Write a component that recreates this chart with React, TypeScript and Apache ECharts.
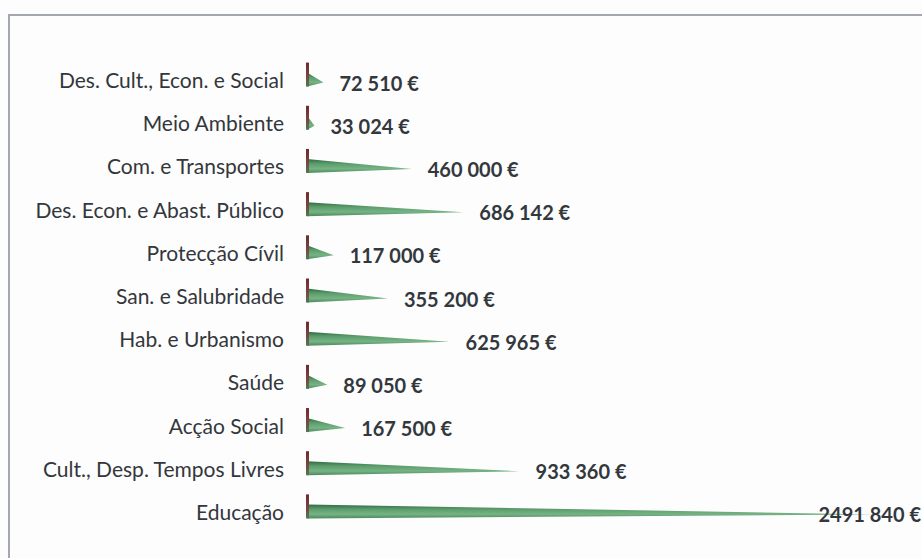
import React, { useEffect, useRef } from "react";
import * as echarts from "echarts";

const categories = [
  "Des. Cult., Econ. e Social",
  "Meio Ambiente",
  "Com. e Transportes",
  "Des. Econ. e Abast. Público",
  "Protecção Cívil",
  "San. e Salubridade",
  "Hab. e Urbanismo",
  "Saúde",
  "Acção Social",
  "Cult., Desp. Tempos Livres",
  "Educação",
];

const values = [72510, 33024, 460000, 686142, 117000, 355200, 625965, 89050, 167500, 933360, 2491840];

const axisMax = 2700000;

function formatEuro(v: number): string {
  const hi = Math.floor(v / 1000);
  const lo = String(v % 1000).padStart(3, "0");
  return `${hi} ${lo} €`;
}

export default function App() {
  const ref = useRef<HTMLDivElement>(null);
  useEffect(() => {
    document.body.style.margin = "0";
    document.body.style.overflow = "hidden";
    const chart = echarts.init(ref.current!, undefined, { renderer: "svg" });
    const green = new echarts.graphic.LinearGradient(0, 0, 0, 1, [
      { offset: 0, color: "#2f6b42" },
      { offset: 0.35, color: "#5d9d6c" },
      { offset: 0.7, color: "#76b385" },
      { offset: 1, color: "#4a8a5b" },
    ]);
    const red = new echarts.graphic.LinearGradient(0, 0, 0, 1, [
      { offset: 0, color: "#6e2a2c" },
      { offset: 0.6, color: "#7d4540" },
      { offset: 1, color: "#4e7a55" },
    ]);
    chart.setOption({
      animation: false,
      backgroundColor: "#fdfdfd",
      grid: { left: 307, top: 58, width: 616, height: 475, containLabel: false },
      xAxis: {
        type: "value",
        min: 0,
        max: axisMax,
        show: false,
      },
      yAxis: {
        type: "category",
        data: categories,
        inverse: true,
        axisLine: { show: false },
        axisTick: { show: false },
        splitLine: { show: false },
        axisLabel: {
          margin: 23,
          color: "#33373c",
          fontFamily: "Lato",
          fontSize: 21,
          fontWeight: "normal",
        },
      },
      graphic: [
        {
          type: "polyline",
          shape: { points: [[9, 558], [9, 15], [922, 15]] },
          style: { stroke: "#a3a7b2", lineWidth: 2, fill: "none" },
          silent: true,
        },
      ],
      series: [
        {
          type: "custom",
          data: values.map((v, i) => [v, i]),
          encode: { x: 0, y: 1 },
          clip: false,
          renderItem: (params: any, api: any) => {
            const v = api.value(0);
            const ci = api.value(1);
            const p0 = api.coord([0, ci]);
            const p1 = api.coord([v, ci]);
            const c = p0[1];
            const x0 = p0[0];
            const tip = p1[0];
            const text = formatEuro(v);
            const estW = text.length * 10.5;
            let tx = tip + 16;
            let align = "left";
            if (tx + estW > api.getWidth()) {
              tx = api.getWidth() - 1;
              align = "right";
            }
            return {
              type: "group",
              children: [
                {
                  type: "polygon",
                  shape: { points: [[x0, c - 7], [tip, c + 3], [x0, c + 7]] },
                  style: { fill: green },
                },
                {
                  type: "rect",
                  shape: { x: x0 - 1, y: c - 17, width: 3, height: 24 },
                  style: { fill: red },
                },
                {
                  type: "text",
                  style: {
                    x: tx,
                    y: c + 3,
                    text,
                    align,
                    verticalAlign: "middle",
                    fill: "#33383d",
                    font: "bold 20px Lato",
                  },
                },
              ],
            };
          },
        },
      ],
    });
    return () => chart.dispose();
  }, []);
  return <div ref={ref} style={{ position: "fixed", left: 0, top: 0, width: 922, height: 558 }} />;
}
